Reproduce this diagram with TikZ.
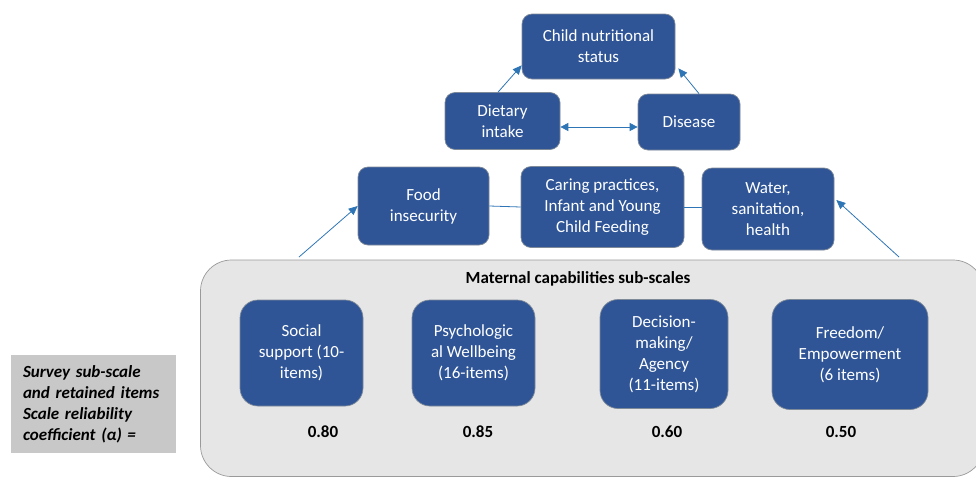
\documentclass[tikz,border=0pt]{standalone}
\usepackage{fontspec}
\setmainfont{Carlito}
\usetikzlibrary{arrows.meta}
\definecolor{boxblue}{HTML}{2F5597}
\definecolor{boxedge}{HTML}{7F8A99}
\definecolor{arrowblue}{HTML}{2E75B6}
\definecolor{panelgray}{HTML}{E6E6E6}
\definecolor{paneledge}{HTML}{9A9A9A}
\definecolor{leftgray}{HTML}{C8C8C8}
\begin{document}
\begin{tikzpicture}[x=1pt,y=-1pt,
  bx/.style={draw=boxedge, line width=0.7pt, fill=boxblue, text=white, rounded corners=10pt,
    align=center, inner sep=0pt, font=\fontsize{17}{21}\selectfont},
  bxl/.style={bx, rounded corners=18pt},
  conn/.style={draw=arrowblue, line width=0.8pt},
  tip/.style={-{Triangle[length=9pt,width=8pt]}},
  dtip/.style={{Triangle[length=8pt,width=8pt]}-{Triangle[length=8pt,width=8pt]}},
  lbl/.style={font=\fontsize{17}{21}\selectfont\bfseries, inner sep=0pt}]
\useasboundingbox (0,0) rectangle (976,477);
\begin{scope}
\clip (0,0) rectangle (976,477);
\node[draw=paneledge, line width=0.7pt, fill=panelgray, rounded corners=31pt, minimum width=783.5, minimum height=216.5, inner sep=0pt] (panel) at (592.25,368.25) {};
\end{scope}
% top tier
\node[bx, minimum width=153, minimum height=65] (child) at (598.5,46.5) {Child nutritional\\status};
\node[bx, minimum width=115, minimum height=57] (diet) at (502.5,121) {Dietary\\intake};
\node[bx, minimum width=102, minimum height=56] (dis) at (689,122) {Disease};
\node[bx, minimum width=131, minimum height=78] (food) at (423.5,206) {Food\\insecurity};
\node[bx, minimum width=163, minimum height=81] (care) at (602.5,207) {Caring practices,\\Infant and Young\\Child Feeding};
\node[bx, minimum width=132, minimum height=82] (water) at (768,209) {Water,\\sanitation,\\health};
% panel content
\node[lbl] (title) at (578,279) {Maternal capabilities sub-scales};
\node[bxl, minimum width=123, minimum height=106] (soc) at (301.5,353) {Social\\support (10-\\items)};
\node[bxl, minimum width=123, minimum height=106] (psy) at (473.5,353) {Psychologic\\al Wellbeing\\(16-items)};
\node[bxl, minimum width=128, minimum height=109] (dec) at (664,354) {Decision-\\making/\\Agency\\(11-items)};
\node[bxl, minimum width=156, minimum height=110] (free) at (850,354.5) {Freedom/\\Empowerment\\(6 items)};
\node[lbl] (v1) at (323,432) {0.80};
\node[lbl] (v2) at (478,432) {0.85};
\node[lbl] (v3) at (667,432) {0.60};
\node[lbl] (v4) at (841,432) {0.50};
% left legend
\node[fill=leftgray, minimum width=165, minimum height=98, text width=141, inner xsep=12pt, inner ysep=0pt,
  align=left, font=\fontsize{17}{21}\selectfont\bfseries\itshape] (legend) at (93.5,404)
  {Survey sub-scale\\and retained items\\Scale reliability\\coefficient (α) =};
% connectors
\coordinate (fromL) at (299,257);
\coordinate (fromR) at (899,257);
\draw[conn,tip] (diet.north -| 498,0) -- ([yshift=14pt]child.south west);
\draw[conn,tip] ([xshift=10pt]dis.north) -- ([xshift=3pt,yshift=11pt]child.south east);
\draw[conn,dtip] ([yshift=-6pt]diet.east) -- ([yshift=-6pt]diet.east -| dis.west);
\draw[conn] (food.east) -- (care.west);
\draw[conn] (care.east) -- (care.east -| water.west);
\draw[conn,tip] (fromL) -- (food.west);
\draw[conn,tip] (fromR) -- ([xshift=2pt,yshift=9pt]water.east);
\end{tikzpicture}
\end{document}
